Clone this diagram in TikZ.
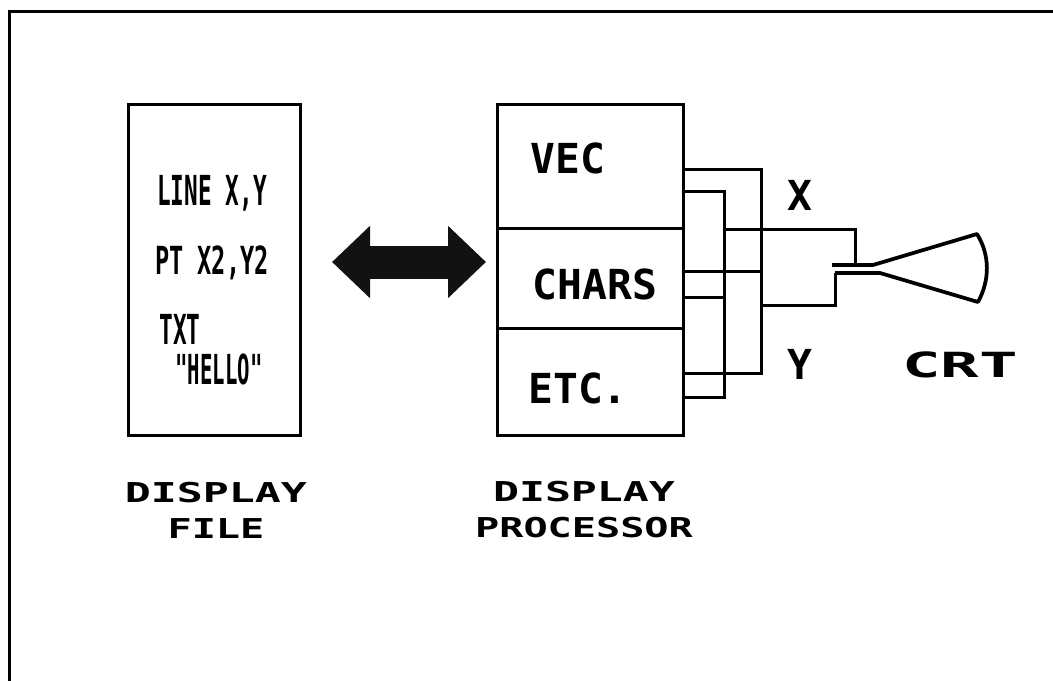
\documentclass[tikz,border=0pt]{standalone}
\usepackage{fontspec}
\usetikzlibrary{arrows.meta}
\newfontfamily\narrowfont[FakeStretch=0.55]{DejaVu Sans Mono Bold}
\newfontfamily\hellofont[FakeStretch=0.5]{DejaVu Sans Mono Bold}
\newfontfamily\ptfont[FakeStretch=0.61]{DejaVu Sans Mono Bold}
\newfontfamily\boxfont{DejaVu Sans Mono Bold}
\newfontfamily\widefont[FakeStretch=1.47]{DejaVu Sans Mono Bold}
\newfontfamily\spacedfont[FakeStretch=1.58]{DejaVu Sans Mono Bold}
\newfontfamily\crtfont[FakeStretch=1.85]{DejaVu Sans Mono Bold}
\tikzset{every picture/.style={line width=2pt}}
\tikzset{
  panel/.style={draw,line width=2.25pt,inner sep=0pt},
  boxlabel/.style={inner sep=0pt,font=\boxfont\fontsize{31}{31}\selectfont},
  filelabel/.style={inner sep=0pt,font=\narrowfont\fontsize{31}{31}\selectfont},
  hellolabel/.style={inner sep=0pt,font=\hellofont\fontsize{31}{31}\selectfont},
  ptlabel/.style={inner sep=0pt,font=\ptfont\fontsize{29}{29}\selectfont},
  caption/.style={inner sep=0pt,align=center,font=\widefont\fontsize{20.5}{27}\selectfont},
  crtlabel/.style={inner sep=0pt,font=\crtfont\fontsize{26}{26}\selectfont},
  wire/.style={line width=2.25pt},
  tube/.style={line width=2.8pt,line join=round},
  link/.style={line width=24.75pt,black!93,{Triangle[length=28.5pt,width=52.5pt]}-{Triangle[length=28.5pt,width=52.5pt]}}
}
\begin{document}
\begin{tikzpicture}[x=0.75pt,y=0.75pt,yscale=-1,xscale=1]
\useasboundingbox (0,0) rectangle (1053,681);

%Frame: open on the right and at the bottom
\coordinate (framea) at (9,681);
\coordinate (frameb) at (9,12);
\coordinate (framec) at (1053,12);
\draw [line width=2.25pt]  (framea) -- (frameb) -- (framec) ;

%Shape: Rectangle
\node (filebox) [panel,minimum width=129pt,minimum height=247.5pt] at (214,270) {};
\node (vecbox) [panel,minimum width=139.5pt,minimum height=92.25pt] at (590,166.5) {};
\node (charsbox) [panel,minimum width=139.5pt,minimum height=75pt] at (590,278) {};
\node (etcbox) [panel,minimum width=139.5pt,minimum height=80.25pt] at (590,381.5) {};

%Double arrow
\coordinate (linkl) at (332,262);
\coordinate (linkr) at (486,262);
\draw [link] (linkl) -- (linkr) ;

%Bus corners
\coordinate (busa) at (761,170);
\coordinate (busb) at (761,373);
\coordinate (busc) at (724,192);
\coordinate (busd) at (724,397);
\coordinate (chara) at (761,271);
\coordinate (charb) at (724,297);
%Straight Lines
\draw [wire] (vecbox.east |- busa) -- (busa) -- (busb) -- (etcbox.east |- busb) ;
\draw [wire] (vecbox.east |- busc) -- (busc) -- (busd) -- (etcbox.east |- busd) ;
\draw [wire] (charsbox.east |- chara) -- (chara) ;
\draw [wire] (charsbox.east |- charb) -- (charb) ;

%CRT outline
\coordinate (tubea) at (832,265);
\coordinate (tubeb) at (873,265);
\coordinate (tubec) at (977,234);
\coordinate (tubed) at (978,302);
\coordinate (tubee) at (880,273);
\coordinate (tubef) at (835,273);
\draw [tube] (tubea) -- (tubeb) -- (tubec) .. controls (990,255) and (990,280) .. (tubed) -- (tubee) -- (tubef) ;

%Deflection leads
\coordinate (leadx) at (855,229);
\coordinate (leadxe) at (855,265);
\coordinate (leady) at (835,305);
\draw [wire] (busc |- leadx) -- (leadx) -- (leadxe) ;
\draw [wire] (busa |- leady) -- (leady) -- (tubef) ;

% Text Node
\node (linetext) [filelabel] at (212,193) {LINE X,Y};
% Text Node
\node (pttext) [ptlabel] at (212,263) {PT X2,Y2};
% Text Node
\node (txttext) [filelabel] at (180,329) {TXT};
% Text Node
\node (hellotext) [hellolabel] at (219,369) {"HELLO"};
% Text Node
\node (vectext) [boxlabel] at (568,158) {VEC};
% Text Node
\node (charstext) [boxlabel] at (595,284) {CHARS};
% Text Node
\node (etctext) [boxlabel] at (578,388) {ETC.};
% Text Node
\node (xtext) [boxlabel] at (800,195) {X};
% Text Node
\node (ytext) [boxlabel] at (800,364) {Y};
% Text Node
\node (crttext) [crtlabel] at (960,365) {CRT};
% Text Node
\node (filetext) [caption] at (216,510) {{\spacedfont DISPLAY}\\FILE};
% Text Node
\node (proctext) [caption] at (584,510) {{\spacedfont DISPLAY}\\PROCESSOR};

\end{tikzpicture}
\end{document}
